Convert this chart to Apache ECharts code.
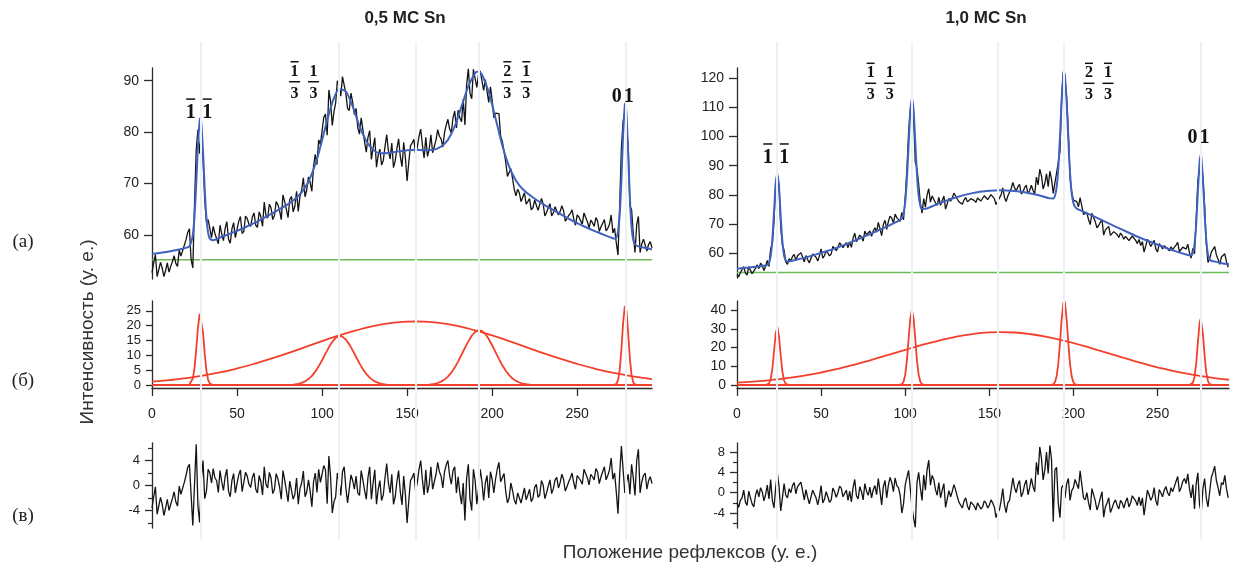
<!DOCTYPE html>
<html><head><meta charset="utf-8">
<script src="https://cdn.jsdelivr.net/npm/echarts@6/dist/echarts.min.js"></script>
<style>html,body{margin:0;padding:0;background:#fff}#c{width:1241px;height:573px}</style>
</head><body><div id="c"></div>
<script>
// ---------------- DATA ----------------
const titles = ['0,5 МС Sn', '1,0 МС Sn'];
const xTicks = [0, 50, 100, 150, 200, 250];
const xMaxL = 294, xMaxR = 292.5;
const peakLinesL = [28.4, 110, 155, 192.4, 278.3];
const peakLinesR = [23.9, 104, 155.2, 194.5, 275.7];
const baseL = 55.2, baseR = 53.4;

// (a) measured intensity, 0.5 ML — even positions u = 0,2,4,...,294
const dataL = [
52.7,56.2,52.1,53.6,53.1,52.8,54.8,54.5,57.1,56.2,
59.1,61.2,53.6,76.5,75.8,75.0,62.5,61.3,61.7,60.0,
61.9,58.9,62.6,58.4,62.4,61.1,63.6,60.7,63.2,61.7,
64.3,61.5,63.6,66.4,63.3,65.3,63.8,65.9,63.0,66.5,
63.4,67.5,65.6,64.6,68.7,67.4,71.3,68.5,75.7,78.5,
80.2,83.5,88.2,81.3,85.7,88.9,90.8,87.5,84.2,85.8,
84.6,79.6,80.5,76.1,80.3,77.0,73.2,76.7,74.5,79.5,
74.8,73.1,76.8,75.3,78.0,70.5,77.4,78.6,77.1,80.6,
75.0,75.3,79.5,77.2,80.5,78.7,79.9,82.5,79.9,84.1,
84.3,82.0,81.4,92.3,86.5,92.3,91.2,91.8,90.2,85.8,
86.3,83.7,83.6,78.2,74.2,71.3,71.0,67.6,68.2,66.3,
66.0,67.1,65.3,67.1,65.0,66.1,64.4,66.1,64.3,65.7,
64.6,64.7,63.2,64.2,63.1,63.9,62.8,64.3,62.6,62.9,
61.7,62.7,61.6,63.0,61.3,63.9,61.3,56.1,77.0,84.0,
77.5,64.9,56.6,63.6,58.3,59.5,58.2,57.5];
// odd positions u = 1,3,...,293
const dataLodd = [
54.6,51.9,54.7,51.9,54.6,53.9,56.0,53.9,55.9,58.0,
60.5,55.2,66.0,80.5,80.0,66.9,63.0,59.5,60.3,58.3,
60.2,61.3,59.2,61.2,59.5,62.7,60.3,63.7,62.1,63.5,
61.9,64.5,61.7,63.8,66.0,63.0,66.5,64.8,67.8,65.0,
66.9,64.5,68.5,67.5,71.1,68.8,70.2,73.4,73.7,77.6,
82.9,79.4,86.0,84.0,90.0,87.0,91.0,84.6,87.6,83.4,
80.9,82.8,78.1,79.0,74.7,78.9,75.5,73.6,77.2,76.4,
77.9,74.4,78.7,73.3,75.0,74.2,77.9,75.7,79.2,77.5,
79.0,76.7,76.0,78.5,79.2,77.1,81.4,80.6,82.8,80.8,
82.8,86.4,89.2,87.5,92.2,88.7,91.9,88.1,90.4,88.8,
82.8,83.9,79.2,78.2,71.4,72.9,68.9,68.9,66.5,68.2,
66.5,64.9,66.8,64.8,67.1,63.7,65.3,63.7,65.5,63.9,
65.7,62.7,63.8,64.9,61.9,63.5,62.1,64.5,61.4,62.4,
63.4,60.7,62.3,60.8,62.1,60.4,58.5,65.7,82.1,84.0,
65.7,60.2,62.0,56.6,59.2,56.9,58.7];

// (a) fit, 0.5 ML  [u, value]
const fitL = [[0,56.3],[10,56.8],[16,57.2],[20,57.5],[22,57.8],[23,58.6],[24,60.0],[25,63.7],[26,69.9],[27,77.3],[28,82.2],[28.4,82.7],[29,81.7],[30,76.2],[31,69.0],[32,63.4],[33,60.4],[34,59.3],[36,59.0],[40,59.5],[50,60.8],[60,62.3],[70,64.1],[80,66.0],[86,67.6],[90,69.2],[94,71.9],[98,75.9],[102,81.0],[106,85.7],[110,88.4],[114,87.9],[118,85.0],[122,81.2],[126,78.3],[130,76.6],[134,75.9],[140,76.0],[150,76.5],[155,76.6],[160,76.5],[166,76.6],[170,77.2],[174,78.5],[178,81.1],[182,85.0],[186,88.9],[190,91.5],[192,91.8],[194,91.2],[198,87.8],[202,82.7],[206,77.4],[210,73.3],[214,70.6],[218,68.9],[224,67.3],[230,66.0],[240,64.1],[250,62.3],[260,60.8],[270,59.5],[272,59.3],[273,59.5],[274,60.6],[275,63.9],[276,70.7],[277,79.5],[278,85.2],[278.3,85.6],[279,83.5],[280,75.7],[281,67.1],[282,61.5],[283,59.0],[284,58.2],[286,57.8],[290,57.5],[294,57.2]];

// (б) components, 0.5 ML
const compL1 = [[0,0],[20,0],[21,0.03],[22,0.15],[23,0.64],[24,2.18],[25,5.78],[26,11.9],[27,19.2],[28,24.0],[28.4,24.5],[29,23.4],[30,17.8],[31,10.5],[32,4.85],[33,1.74],[34,0.49],[35,0.1],[36,0.02],[37,0],[294,0]];
const compL2 = [[0,0],[82,0],[84,0.22],[86,0.41],[88,0.72],[90,1.23],[92,1.99],[94,3.07],[96,4.5],[98,6.29],[100,8.35],[102,10.57],[104,12.7],[106,14.56],[108,15.9],[110,16.47],[112,16.27],[114,15.3],[116,13.7],[118,11.66],[120,9.45],[122,7.29],[124,5.36],[126,3.74],[128,2.49],[130,1.58],[132,0.95],[134,0.54],[136,0.3],[138,0.15],[140,0.08],[142,0],[294,0]];
const compL3 = [[0,1.14],[10,1.64],[20,2.31],[30,3.18],[40,4.26],[50,5.57],[60,7.11],[70,8.86],[80,10.76],[90,12.78],[100,14.8],[110,16.71],[120,18.4],[130,19.83],[140,20.82],[150,21.34],[155,21.4],[160,21.34],[170,20.82],[180,19.83],[190,18.4],[200,16.71],[210,14.8],[220,12.78],[230,10.76],[240,8.86],[250,7.11],[260,5.57],[270,4.26],[280,3.18],[290,2.31],[294,2.02]];
const compL4 = [[0,0],[162,0],[164,0.21],[166,0.39],[168,0.68],[170,1.15],[172,1.84],[174,2.83],[176,4.17],[178,5.87],[180,7.89],[182,10.2],[184,12.5],[186,14.7],[188,16.6],[190,17.9],[192,18.48],[194,18.2],[196,17.2],[198,15.5],[200,13.4],[202,11.1],[204,8.78],[206,6.64],[208,4.8],[210,3.33],[212,2.2],[214,1.4],[216,0.85],[218,0.49],[220,0.27],[222,0.14],[224,0],[294,0]];
const compL5 = [[0,0],[271,0],[272,0.06],[273,0.35],[274,1.56],[275,5.03],[276,11.93],[277,20.8],[278,26.6],[278.3,27],[279,25.0],[280,17.3],[281,8.77],[282,3.26],[283,0.89],[284,0.18],[285,0.03],[286,0],[294,0]];

// (в) residual, 0.5 ML — even u
const resL = [
-3.6,-0.2,-4.4,-3.0,-3.6,-4.0,-2.1,-2.6,-0.1,-1.2,
1.6,3.4,-6.4,6.6,-5.9,4.0,-0.9,2.0,2.7,0.8,
2.4,-0.8,2.6,-1.8,1.9,0.3,2.5,-0.7,1.5,-0.3,
2.0,-1.2,0.6,3.0,-0.4,1.2,-0.6,1.1,-2.2,0.9,
-2.6,1.0,-1.4,-3.0,0.4,-1.8,0.9,-3.4,2.0,2.6,
1.8,2.5,4.7,-4.4,-1.8,0.5,2.2,-0.4,-2.5,0.8,
1.5,-1.6,0.9,-2.2,3.0,0.4,-3.0,0.8,-1.5,3.5,
-1.2,-3.0,0.6,-1.0,1.5,-6.0,0.8,2.0,0.5,4.0,
-1.5,-1.2,3.0,0.6,3.7,1.5,2.2,4.0,0.2,3.0,
1.4,-3.0,-5.6,3.4,-4.0,0.8,-0.6,0.6,0.4,-2.0,
1.0,1.0,3.7,0.8,-1.0,-2.0,-0.8,-3.0,-1.4,-2.6,
-2.3,-0.6,-2.0,0.2,-1.5,0.1,-1.2,0.9,-0.5,1.3,
0.5,1.0,-0.2,1.2,0.4,1.6,0.8,2.6,1.2,1.8,
0.9,2.2,1.4,3.0,1.6,4.4,2.0,-4.5,6.3,-1.2,
1.8,3.4,-1.6,5.8,0.6,2.0,0.8,0.3];
// odd u
const resLodd = [
-1.8,-4.6,-1.9,-4.8,-2.2,-3.0,-1.0,-3.3,-1.4,0.5,
2.9,-1.5,0.2,-3.2,1.0,-2.1,2.6,0.4,1.2,-1.1,
0.6,1.4,-0.9,0.8,-1.2,1.7,-1.0,2.1,0.2,1.3,
-0.6,1.6,-1.5,0.2,2.1,-1.3,1.9,-0.2,2.4,-0.8,
0.7,-2.2,1.2,-0.5,2.3,-1.0,-0.9,0.6,-1.1,0.5,
3.2,-2.9,1.4,-2.6,2.0,-1.6,3.0,-2.8,1.7,-0.6,
-1.2,2.4,-0.8,1.3,-2.2,2.5,-0.6,-2.4,1.2,0.4,
1.8,-1.8,2.4,-3.1,-1.5,-2.4,1.3,-0.9,2.6,0.9,
2.5,0.2,-0.6,1.8,2.2,-0.4,3.3,1.6,2.4,-1.2,
-1.2,0.4,1.2,-2.2,2.6,-3.0,2.6,-2.4,1.6,2.2,
-1.2,2.6,0.6,1.9,-2.8,0.4,-2.3,-1.2,-2.8,-0.4,
-1.5,-2.6,-0.3,-1.9,0.8,-2.1,-0.1,-1.3,0.9,-0.4,
1.8,-0.9,0.6,2.0,-0.6,1.3,0.2,2.9,0.1,1.4,
2.7,0.3,2.2,0.9,2.5,1.0,-1.0,1.8,2.6,0.5,
-1.4,1.2,4.0,-1.2,1.6,-0.6,1.4];

// (a) measured intensity, 1.0 ML — even u = 0,2,...,292
const dataR = [
52.7,53.3,55.4,52.5,54.1,52.5,56.0,56.6,54.1,57.5,
61.6,71.0,85.8,68.8,61.0,56.2,57.3,59.6,59.1,60.2,
57.0,57.8,57.2,60.2,57.3,61.5,59.2,60.0,59.8,61.8,
62.0,63.4,62.3,61.9,62.0,66.9,63.6,65.5,67.6,65.8,
65.8,68.7,70.6,66.0,71.3,70.9,72.0,73.4,72.1,74.0,
79.0,101.3,110.5,91.2,83.7,73.7,75.8,82.1,79.6,77.3,
79.1,78.1,75.1,78.8,79.1,79.6,77.6,76.8,79.1,77.0,
79.1,77.4,78.8,78.4,79.3,78.9,79.5,76.7,78.2,82.4,
77.7,80.0,84.3,81.3,83.6,81.0,83.3,81.6,81.5,86.1,
88.8,82.0,87.2,88.1,80.5,87.5,94.8,122.3,113.4,85.9,
78.2,77.7,79.1,73.3,73.8,69.8,73.2,68.7,70.6,66.2,
68.5,66.1,67.4,66.4,66.9,64.8,66.3,64.8,65.8,63.3,
62.6,60.4,64.8,62.3,64.4,60.4,62.5,62.6,61.6,62.2,
62.0,63.7,61.1,62.5,63.1,58.3,59.8,85.0,90.0,76.4,
56.8,60.4,62.3,57.9,58.7,59.8,55.2];
// odd u = 1,3,...,291
const dataRodd = [
51.9,53.9,53.2,55.4,53.0,54.8,54.7,55.8,55.5,55.5,
63.1,84.7,83.5,62.8,57.0,58.1,58.9,57.5,59.0,58.7,
59.2,56.7,59.7,58.6,59.1,58.3,60.8,59.1,62.3,60.9,
63.6,61.9,63.6,63.9,65.1,63.9,66.2,64.1,66.3,67.6,
67.6,67.2,68.4,69.8,68.2,72.7,70.4,72.2,70.9,71.4,
88.4,109.2,107.0,89.0,77.3,78.7,80.0,77.5,79.1,76.4,
76.4,79.6,77.0,77.8,80.6,78.5,77.4,78.3,77.6,78.7,
78.1,78.9,77.9,79.7,78.4,80.1,78.7,77.8,80.0,79.2,
79.6,82.1,82.4,82.8,80.3,82.5,80.3,83.3,80.4,83.4,
86.5,83.9,82.8,85.3,84.1,87.0,113.3,119.6,101.4,80.9,
78.5,75.9,76.1,72.7,71.5,73.7,70.8,69.5,71.5,68.0,
69.2,66.7,67.8,65.4,66.1,65.8,64.3,65.9,64.4,64.7,
64.0,62.5,63.7,62.8,61.5,63.3,61.5,63.0,60.8,61.2,
62.8,60.5,62.1,61.4,60.1,61.7,71.9,88.8,86.1,63.3,
58.1,61.3,59.4,56.2,58.1,57.1];

// (a) fit, 1.0 ML
const fitR = [[0,54.7],[10,55.25],[16,55.7],[18,56.0],[19,56.7],[20,59.0],[21,64.6],[22,74.0],[23,83.7],[24,87.4],[25,82.3],[26,72.4],[27,63.8],[28,59.2],[29,57.5],[30,57.2],[34,57.6],[40,58.4],[50,60.1],[60,62.0],[70,64.3],[80,66.8],[90,69.4],[96,71.05],[98,72.0],[99,73.6],[100,77.5],[101,85.4],[102,96.9],[103,108.2],[104,113.2],[105,108.8],[106,98.0],[107,87.0],[108,79.65],[109,76.3],[110,75.2],[112,75.25],[120,77.1],[130,79.1],[140,80.6],[150,81.4],[157,81.6],[170,81.0],[180,79.8],[186,78.8],[188,78.75],[189,79.6],[190,82.5],[191,89.0],[192,99.7],[193,112.3],[194,120.8],[194.5,122.0],[195,120.6],[196,111.6],[197,98.6],[198,87.4],[199,80.5],[200,77.2],[201,75.9],[202,75.3],[210,73.2],[220,70.5],[230,67.8],[240,65.2],[250,62.9],[260,60.8],[268,59.4],[270,59.3],[271,60.1],[272,63.0],[273,70.1],[274,81.1],[275,91.2],[275.7,93.7],[276,93.1],[277,85.3],[278,73.6],[279,64.3],[280,59.6],[281,57.9],[282,57.4],[286,56.9],[290,56.4],[292.5,56.2]];

// (б) components, 1.0 ML
const compR1 = [[0,0],[17,0],[18,0.15],[19,0.76],[20,2.97],[21,8.47],[22,17.75],[23,27.4],[24,31.0],[25,25.7],[26,15.7],[27,7.03],[28,2.32],[29,0.56],[30,0.1],[31,0],[292.5,0]];
const compR2 = [[0,0],[96,0],[97,0.09],[98,0.44],[99,1.76],[100,5.41],[101,12.99],[102,24.26],[103,35.3],[104,40],[105,35.3],[106,24.26],[107,12.99],[108,5.41],[109,1.76],[110,0.44],[111,0.09],[112,0],[292.5,0]];
const compR3 = [[0,1.26],[10,1.85],[20,2.65],[30,3.7],[40,5.03],[50,6.67],[60,8.62],[70,10.87],[80,13.36],[90,16.02],[100,18.73],[110,21.35],[120,23.73],[130,25.72],[140,27.19],[150,28.03],[157,28.2],[165,28.0],[175,27.07],[185,25.55],[195,23.5],[205,21.1],[215,18.46],[225,15.75],[235,13.1],[245,10.63],[255,8.41],[265,6.48],[275,4.88],[285,3.58],[292.5,2.79]];
const compR4 = [[0,0],[186,0],[187,0.08],[188,0.37],[189,1.46],[190,4.53],[191,11.2],[192,22.15],[193,34.9],[194,43.7],[194.5,45],[195,43.7],[196,34.9],[197,22.15],[198,11.2],[199,4.53],[200,1.46],[201,0.37],[202,0.08],[203,0],[292.5,0]];
const compR5 = [[0,0],[269,0],[270,0.24],[271,1.17],[272,4.29],[273,11.53],[274,22.7],[275,32.9],[275.7,35.5],[276,35.0],[277,27.3],[278,15.7],[279,6.6],[280,2.05],[281,0.46],[282,0.08],[283,0],[292.5,0]];

// (в) residual, 1.0 ML — even u
const resR = [
-2.0,-1.5,0.5,-2.5,-1.0,-2.8,0.6,1.0,-1.6,1.5,
2.6,-3.0,3.8,-3.6,1.8,-1.0,0.0,2.0,1.2,2.1,
-1.4,-0.9,-1.9,0.8,-2.4,1.4,-1.3,-0.8,-1.4,0.2,
0.0,0.9,-0.6,-1.5,-1.8,2.6,-1.2,0.2,1.8,-0.5,
-1.0,1.4,2.8,-2.4,2.4,1.5,2.0,2.9,1.0,-4.0,
1.5,4.4,-2.8,-6.8,4.0,-1.5,0.5,6.4,3.4,0.6,
2.0,0.5,-2.9,0.4,0.3,0.5,-1.9,-3.0,-1.0,-3.4,
-1.5,-3.4,-2.2,-2.8,-2.0,-2.5,-2.0,-4.9,-3.4,0.8,
-3.9,-1.5,2.9,0.0,2.4,0.0,2.5,1.0,1.2,6.0,
9.0,2.5,8.0,9.3,-5.7,5.0,-4.9,1.5,1.8,-1.5,
1.0,2.4,4.3,-1.0,0.0,-3.4,0.5,-3.4,-1.0,-4.8,
-2.0,-3.9,-2.0,-2.5,-1.5,-3.0,-1.0,-2.0,-0.5,-2.5,
-2.6,-4.4,0.5,-1.5,1.0,-2.5,0.0,0.5,0.0,1.0,
1.2,3.2,1.0,2.8,3.7,-1.0,-3.2,3.9,-3.9,2.8,
-2.8,3.0,5.2,1.0,2.0,3.4,-1.0];
// odd u
const resRodd = [
-2.9,-1.0,-1.8,0.3,-2.2,-0.5,-0.8,0.2,-0.4,-1.2,
-1.5,1.0,1.2,-1.0,-0.5,0.8,1.4,-0.2,1.0,0.4,
0.6,-2.2,0.5,-1.0,-0.8,-2.0,0.2,-1.9,0.9,-0.9,
1.3,-0.8,0.5,0.3,1.0,-0.6,1.2,-1.4,0.3,1.1,
0.6,-0.4,0.3,1.2,-1.0,3.0,0.2,1.4,-0.5,-2.2,
3.0,1.0,-5.0,2.0,1.0,3.5,4.5,1.5,2.6,-0.5,
-1.0,1.8,-1.2,-0.8,1.6,-0.8,-2.2,-1.6,-2.6,-1.8,
-2.6,-2.0,-3.2,-1.6,-3.0,-1.4,-2.8,-3.8,-1.6,-2.4,
-2.0,0.6,1.0,1.6,-0.8,1.6,-0.4,2.8,0.2,3.5,
6.8,4.5,3.8,6.5,4.5,-2.0,1.0,-1.0,2.8,0.4,
2.6,0.8,1.6,-1.4,-2.0,0.8,-1.6,-2.4,0.2,-2.8,
-1.0,-3.0,-1.4,-3.2,-2.0,-1.8,-2.8,-0.6,-1.6,-0.8,
-1.0,-2.0,-0.4,-0.8,-1.6,0.6,-0.8,1.2,-0.6,0.2,
2.2,0.2,2.2,1.8,0.8,1.6,1.8,-2.4,0.8,-1.0,
0.2,4.0,2.4,-0.6,1.6,0.8];

// y-axis ticks
const yTicksTopL = [60, 70, 80, 90];
const yTicksMidL = [0, 5, 10, 15, 20, 25];
const yTicksBotL = [-4, 0, 4];
const yTicksTopR = [60, 70, 80, 90, 100, 110, 120];
const yTicksMidR = [0, 10, 20, 30, 40];
const yTicksBotR = [-4, 0, 4, 8];
const yMinor = [-6, -2, 2, 6];

// peak annotations (anchored in data coordinates of the top panels)
const peakLabels = [
  {grid:0, u:27.6, v:83.7, kind:'int', parts:[['1',1],['1',1]]},
  {grid:0, u:89.4, v:89.8, kind:'frac', parts:[['1',1],['1',0]]},
  {grid:0, u:214.5, v:89.8, kind:'frac', parts:[['2',1],['1',1]]},
  {grid:0, u:276.8, v:86.8, kind:'int', parts:[['0',0],['1',0]]},
  {grid:3, u:23.2, v:92.65, kind:'int', parts:[['1',1],['1',1]]},
  {grid:3, u:85.1, v:118.25, kind:'frac', parts:[['1',1],['1',0]]},
  {grid:3, u:214.9, v:118.25, kind:'frac', parts:[['2',1],['1',1]]},
  {grid:3, u:274.4, v:99.7, kind:'int', parts:[['0',0],['1',0]]}
];

// ---------------- CHART ----------------
const chart = echarts.init(document.getElementById('c'), null, {renderer:'canvas', width:1241, height:573});
const FONT = '"Liberation Sans", Arial, Helvetica, sans-serif';
const AX = '#2b2b2b';
const BLACK = '#141414', BLUE = '#4061bf', GREEN = '#6dbb58', RED = '#f2402c';
// interleave even-u and odd-u samples into [u, value] pairs
function merge(even, odd) {
  const out = [];
  for (let i = 0; i < even.length; i++) {
    out.push([2 * i, even[i]]);
    if (i < odd.length) out.push([2 * i + 1, odd[i]]);
  }
  return out;
}

const LX = 152, LW = 500, RX = 737, RW = 492;
function grid(left, width, top, height) {
  return {left, width, top, height, containLabel:false, outerBoundsMode:'none'};
}
const grids = [
  grid(LX, LW, 68, 211), grid(LX, LW, 301, 87), grid(LX, LW, 443, 85),
  grid(RX, RW, 68, 210), grid(RX, RW, 301, 87), grid(RX, RW, 443, 85),
  grid(LX, LW, 42, 498), grid(RX, RW, 42, 498)
];
function xHidden(gi, max) { return {type:'value', gridIndex:gi, min:0, max:max, show:false}; }
function xShown(gi, max) {
  return {type:'value', gridIndex:gi, min:0, max:max, position:'bottom',
    axisLine:{show:true, onZero:false, lineStyle:{color:AX, width:1.3}},
    axisTick:{show:true, customValues:xTicks, length:8, lineStyle:{color:AX, width:1.3}},
    axisLabel:{show:true, customValues:xTicks, margin:19, fontSize:14, color:'#222', fontFamily:FONT},
    splitLine:{show:false}};
}
function yShown(gi, min, max, ticks, fs, len) {
  return {type:'value', gridIndex:gi, min:min, max:max, position:'left',
    axisLine:{show:true, onZero:false, lineStyle:{color:AX, width:1.3}},
    axisTick:{show:true, customValues:ticks, length:len, lineStyle:{color:AX, width:1.3}},
    axisLabel:{show:true, customValues:ticks, margin:len + 5, fontSize:fs, color:'#222', fontFamily:FONT},
    splitLine:{show:false}};
}
function yMinorAx(gi, min, max) {
  return {type:'value', gridIndex:gi, min:min, max:max, position:'left',
    axisLine:{show:false, onZero:false},
    axisTick:{show:true, customValues:yMinor, length:4, lineStyle:{color:AX, width:1.2}},
    axisLabel:{show:false}, splitLine:{show:false}};
}
const xAxes = [xHidden(0, xMaxL), xShown(1, xMaxL), xHidden(2, xMaxL),
  xHidden(3, xMaxR), xShown(4, xMaxR), xHidden(5, xMaxR),
  xHidden(6, xMaxL), xHidden(7, xMaxR)];
const yAxes = [
  yShown(0, 51.45, 92.47, yTicksTopL, 14, 8),
  yShown(1, -1.0, 28.3, yTicksMidL, 13, 6),
  yShown(2, -6.8, 6.8, yTicksBotL, 13, 7),
  yShown(3, 51.5, 123.5, yTicksTopR, 14, 8),
  yShown(4, -1.6, 44.8, yTicksMidR, 14, 6),
  yShown(5, -6.94, 9.78, yTicksBotR, 13, 7),
  yMinorAx(2, -6.8, 6.8), yMinorAx(5, -6.94, 9.78),
  {type:'value', gridIndex:6, min:0, max:1, show:false},
  {type:'value', gridIndex:7, min:0, max:1, show:false}
];
function line(xi, yi, data, color, width, extra) {
  return Object.assign({type:'line', xAxisIndex:xi, yAxisIndex:yi, data:data, symbol:'none', showSymbol:false,
    lineStyle:{color:color, width:width}, itemStyle:{color:color}, silent:true, animation:false, z:3}, extra || {});
}
function vlines(xi, yi, arr) {
  return {type:'line', xAxisIndex:xi, yAxisIndex:yi, data:[], silent:true, animation:false, z:-1,
    markLine:{silent:true, symbol:['none','none'], animation:false, label:{show:false},
      lineStyle:{color:'#eef1f4', width:2, type:'solid'},
      emphasis:{disabled:true},
      data:arr.map(u => ({xAxis:u}))}};
}
const series = [
  vlines(6, 8, peakLinesL), vlines(7, 9, peakLinesR),
  // left column
  line(0, 0, [[0, baseL], [xMaxL, baseL]], GREEN, 1.6),
  line(0, 0, merge(dataL, dataLodd), BLACK, 1.3),
  line(0, 0, fitL, BLUE, 2.0, {smooth:0.25}),
  line(1, 1, compL3, RED, 1.8, {smooth:true}),
  line(1, 1, compL1, RED, 1.8),
  line(1, 1, compL2, RED, 1.8),
  line(1, 1, compL4, RED, 1.8),
  line(1, 1, compL5, RED, 1.8),
  line(2, 2, merge(resL, resLodd), BLACK, 1.3),
  // right column
  line(3, 3, [[0, baseR], [xMaxR, baseR]], GREEN, 1.6),
  line(3, 3, merge(dataR, dataRodd), BLACK, 1.3),
  line(3, 3, fitR, BLUE, 2.0, {smooth:0.25}),
  line(4, 4, compR3, RED, 1.8, {smooth:true}),
  line(4, 4, compR1, RED, 1.8),
  line(4, 4, compR2, RED, 1.8),
  line(4, 4, compR4, RED, 1.8),
  line(4, 4, compR5, RED, 1.8),
  line(5, 5, merge(resR, resRodd), BLACK, 1.3)
];
chart.setOption({animation:false, backgroundColor:'#fff', grid:grids, xAxis:xAxes, yAxis:yAxes, series:series});

// ---------------- TEXT / ANNOTATIONS ----------------
function T(x, y, s, font, color, rot) {
  return {type:'text', x:x, y:y, rotation:rot || 0, silent:true, z:10,
    style:{text:s, font:font, fill:color || '#222', align:'center', verticalAlign:'middle', textAlign:'center', textVerticalAlign:'middle'}};
}
function bar(cx, cy, w) {
  return {type:'rect', silent:true, z:10, shape:{x:cx - w / 2, y:cy - 0.75, width:w, height:1.5}, style:{fill:'#111'}};
}
const SERIF_B = n => 'bold ' + n + 'px "Liberation Serif", "Times New Roman", serif';
const els = [];
els.push(T(405, 18, titles[0], 'bold 17px "Liberation Sans Narrow", "Liberation Sans", Arial, sans-serif', '#222'));
els.push(T(986, 18, titles[1], 'bold 17px "Liberation Sans Narrow", "Liberation Sans", Arial, sans-serif', '#222'));
els.push(T(23, 242, '(а)', '19px "Liberation Serif", "Times New Roman", serif', '#222'));
els.push(T(23, 381, '(б)', '19px "Liberation Serif", "Times New Roman", serif', '#222'));
els.push(T(23, 516, '(в)', '19px "Liberation Serif", "Times New Roman", serif', '#222'));
els.push(T(88, 332, 'Интенсивность (у. е.)', '19px ' + FONT, '#333', Math.PI / 2));
els.push(T(690, 553, 'Положение рефлексов (у. е.)', '19px ' + FONT, '#333'));
peakLabels.forEach(L => {
  const p = chart.convertToPixel({gridIndex:L.grid}, [L.u, L.v]);
  const n = L.parts.length;
  const gap = L.kind === 'frac' ? 19 : (L.parts[0][0] === '0' ? 12 : 16.5);
  L.parts.forEach((pt, i) => {
    const cx = p[0] + (i - (n - 1) / 2) * gap;
    if (L.kind === 'int') {
      els.push(T(cx, p[1], pt[0], SERIF_B(20), '#111'));
      if (pt[1]) els.push(bar(cx, p[1] - 14, 9));
    } else {
      els.push(T(cx, p[1] - 10, pt[0], SERIF_B(16), '#111'));
      els.push(bar(cx, p[1], 11));
      els.push(T(cx, p[1] + 12, '3', SERIF_B(16), '#111'));
      if (pt[1]) els.push(bar(cx, p[1] - 20, 8));
    }
  });
});
chart.setOption({graphic:{elements:els}});
</script></body></html>
